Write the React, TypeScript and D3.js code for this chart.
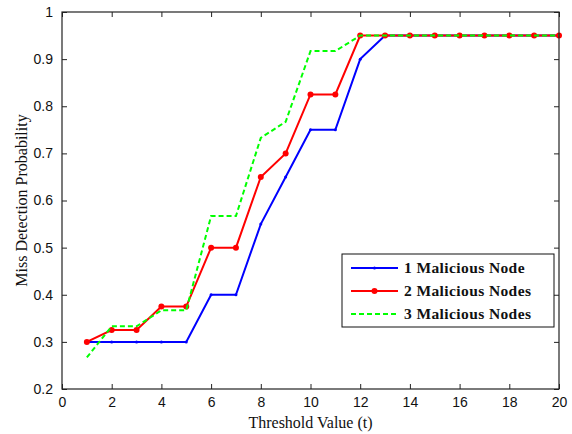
import { useEffect, useRef } from "react";
import * as d3 from "d3";

const thresholds = [1, 2, 3, 4, 5, 6, 7, 8, 9, 10, 11, 12, 13, 14, 15, 16, 17, 18, 19, 20];
const oneNode = [0.3, 0.3, 0.3, 0.3, 0.3, 0.4, 0.4, 0.55, 0.65, 0.75, 0.75, 0.9, 0.95, 0.95, 0.95, 0.95, 0.95, 0.95, 0.95, 0.95];
const twoNodes = [0.3, 0.325, 0.325, 0.375, 0.375, 0.5, 0.5, 0.65, 0.7, 0.825, 0.825, 0.95, 0.95, 0.95, 0.95, 0.95, 0.95, 0.95, 0.95, 0.95];
const threeNodes = [0.267, 0.333, 0.333, 0.367, 0.367, 0.567, 0.567, 0.733, 0.767, 0.917, 0.917, 0.95, 0.95, 0.95, 0.95, 0.95, 0.95, 0.95, 0.95, 0.95];
const seriesNames = ["1 Malicious Node", "2 Malicious Nodes", "3 Malicious Nodes"];
const xTicks = [0, 2, 4, 6, 8, 10, 12, 14, 16, 18, 20];
const yTicks = [0.2, 0.3, 0.4, 0.5, 0.6, 0.7, 0.8, 0.9, 1];

const App = () => {
    const svgRef = useRef<SVGSVGElement>(null);

    useEffect(() => {
        const margin = { top: 12, right: 13, bottom: 45, left: 62 };
        const width = 572 - margin.left - margin.right;
        const height = 434 - margin.top - margin.bottom;

        const svg = d3.select(svgRef.current);
        svg.selectAll("*").remove();

        const g = svg.append("g").attr("transform", `translate(${margin.left},${margin.top})`);

        const x = d3.scaleLinear().domain([0, 20]).range([0, width]);
        const y = d3.scaleLinear().domain([0.2, 1]).range([height, 0]);

        const tickFont = "'Liberation Sans', Arial, sans-serif";
        const serif = "'Liberation Serif', 'Times New Roman', serif";

        // Ejes (ticks hacia dentro, en los cuatro lados)
        const bottom = g.append("g").attr("transform", `translate(0,${height})`)
            .call(d3.axisBottom(x).tickValues(xTicks).tickSize(-5).tickPadding(8).tickSizeOuter(0));
        const left = g.append("g")
            .call(d3.axisLeft(y).tickValues(yTicks).tickSize(-5).tickPadding(9).tickFormat(d3.format("")).tickSizeOuter(0));
        const top = g.append("g")
            .call(d3.axisTop(x).tickValues(xTicks).tickSize(-5).tickFormat(() => "").tickSizeOuter(0));
        const right = g.append("g").attr("transform", `translate(${width},0)`)
            .call(d3.axisRight(y).tickValues(yTicks).tickSize(-5).tickFormat(() => "").tickSizeOuter(0));

        [bottom, left, top, right].forEach(a => {
            a.select(".domain").remove();
            a.selectAll("line").attr("stroke", "#222").attr("stroke-width", 1);
            a.selectAll("text").attr("font-family", tickFont).attr("font-size", 14).attr("fill", "#111");
        });

        const series = [
            { name: seriesNames[0], values: oneNode, color: "#0000ff", dash: null, r: 1.5 },
            { name: seriesNames[1], values: twoNodes, color: "#ff0000", dash: null, r: 3 },
            { name: seriesNames[2], values: threeNodes, color: "#00ff00", dash: "5,3", r: 0 },
        ];

        const line = d3.line<number>()
            .x((d, i) => x(thresholds[i]))
            .y(d => y(d));

        series.forEach(s => {
            g.append("path")
                .datum(s.values)
                .attr("fill", "none")
                .attr("stroke", s.color)
                .attr("stroke-width", 2)
                .attr("stroke-dasharray", s.dash)
                .attr("d", line);
            if (s.r > 0) {
                g.selectAll(null)
                    .data(s.values)
                    .enter().append("circle")
                    .attr("cx", (d, i) => x(thresholds[i]))
                    .attr("cy", d => y(d))
                    .attr("r", s.r)
                    .attr("fill", s.color);
            }
        });

        // Marco
        g.append("rect")
            .attr("width", width)
            .attr("height", height)
            .attr("fill", "none")
            .attr("stroke", "#222")
            .attr("stroke-width", 1.2);

        // Leyenda
        const legend = svg.append("g").attr("transform", "translate(342,254)");
        legend.append("rect")
            .attr("width", 212)
            .attr("height", 73)
            .attr("fill", "white")
            .attr("stroke", "#111")
            .attr("stroke-width", 1);

        const rows = legend.selectAll(".legend")
            .data(series)
            .enter().append("g")
            .attr("class", "legend")
            .attr("transform", (d, i) => `translate(0,${14 + i * 23})`);

        rows.append("line")
            .attr("x1", 9).attr("x2", 56)
            .attr("stroke", d => d.color)
            .attr("stroke-width", 2)
            .attr("stroke-dasharray", d => d.dash);
        rows.filter(d => d.r > 0).append("circle")
            .attr("cx", 32.5)
            .attr("r", d => d.r)
            .attr("fill", d => d.color);
        rows.append("text")
            .attr("x", 62)
            .attr("dy", "0.35em")
            .attr("font-family", serif)
            .attr("font-weight", "bold")
            .attr("font-size", 15.5)
            .attr("letter-spacing", 0.4)
            .attr("fill", "#111")
            .text(d => d.name);

        // Títulos de ejes
        svg.append("text")
            .attr("x", margin.left + width / 2)
            .attr("y", 428)
            .attr("text-anchor", "middle")
            .attr("font-family", serif)
            .attr("font-size", 16)
            .attr("fill", "#111")
            .text("Threshold Value (t)");

        svg.append("text")
            .attr("transform", `translate(27,${margin.top + height / 2}) rotate(-90)`)
            .attr("text-anchor", "middle")
            .attr("font-family", serif)
            .attr("font-size", 16)
            .attr("fill", "#111")
            .text("Miss Detection Probability");
    }, []);

    return (
        <svg ref={svgRef} width={572} height={434}
            style={{ position: "absolute", left: 0, top: 0, background: "white" }}></svg>
    );
};

export default App;
